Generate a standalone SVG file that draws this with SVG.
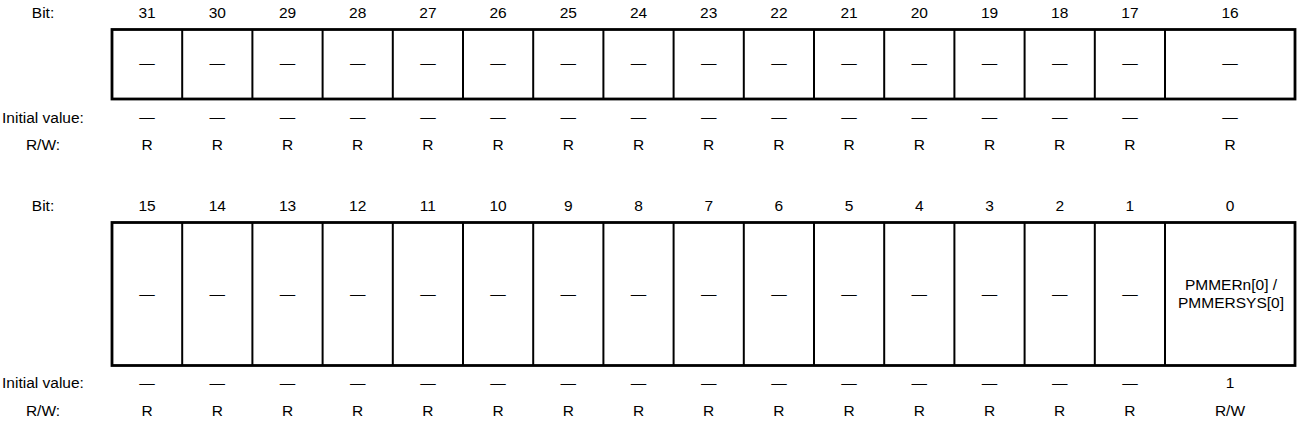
<svg xmlns="http://www.w3.org/2000/svg" width="1301" height="424" viewBox="0 0 1301 424">
<style>
text{font-family:"Liberation Sans",Arial,sans-serif;font-size:15.5px;fill:#000;text-anchor:middle}
.box{fill:#fff;stroke:#000;stroke-width:2.8}
.div{stroke:#000;stroke-width:2}
</style>
<rect width="1301" height="424" fill="#fff"/>
<g id="labels">
<text x="43" y="17.5">Bit:</text>
<text x="43" y="122.5">Initial value:</text>
<text x="43" y="150">R/W:</text>
<text x="43" y="210.5">Bit:</text>
<text x="43" y="388">Initial value:</text>
<text x="43" y="416">R/W:</text>
</g>
<g id="register-high">
<rect class="box" x="112" y="29.5" width="1183" height="69.5"/>
<g class="div">
<line x1="182.2" y1="29.5" x2="182.2" y2="99"/><line x1="252.4" y1="29.5" x2="252.4" y2="99"/><line x1="322.6" y1="29.5" x2="322.6" y2="99"/><line x1="392.8" y1="29.5" x2="392.8" y2="99"/><line x1="463" y1="29.5" x2="463" y2="99"/><line x1="533.2" y1="29.5" x2="533.2" y2="99"/><line x1="603.4" y1="29.5" x2="603.4" y2="99"/><line x1="673.6" y1="29.5" x2="673.6" y2="99"/><line x1="743.8" y1="29.5" x2="743.8" y2="99"/><line x1="814" y1="29.5" x2="814" y2="99"/><line x1="884.2" y1="29.5" x2="884.2" y2="99"/><line x1="954.4" y1="29.5" x2="954.4" y2="99"/><line x1="1024.6" y1="29.5" x2="1024.6" y2="99"/><line x1="1094.8" y1="29.5" x2="1094.8" y2="99"/><line x1="1165" y1="29.5" x2="1165" y2="99"/>
</g>
<g id="bits-high-num">
<text x="147.1" y="17.5">31</text><text x="217.3" y="17.5">30</text><text x="287.5" y="17.5">29</text><text x="357.7" y="17.5">28</text><text x="427.9" y="17.5">27</text><text x="498.1" y="17.5">26</text><text x="568.3" y="17.5">25</text><text x="638.5" y="17.5">24</text><text x="708.7" y="17.5">23</text><text x="778.9" y="17.5">22</text><text x="849.1" y="17.5">21</text><text x="919.3" y="17.5">20</text><text x="989.5" y="17.5">19</text><text x="1059.7" y="17.5">18</text><text x="1129.9" y="17.5">17</text><text x="1230" y="17.5">16</text>
</g>
<g id="bits-high-field">
<text x="147.1" y="68">—</text><text x="217.3" y="68">—</text><text x="287.5" y="68">—</text><text x="357.7" y="68">—</text><text x="427.9" y="68">—</text><text x="498.1" y="68">—</text><text x="568.3" y="68">—</text><text x="638.5" y="68">—</text><text x="708.7" y="68">—</text><text x="778.9" y="68">—</text><text x="849.1" y="68">—</text><text x="919.3" y="68">—</text><text x="989.5" y="68">—</text><text x="1059.7" y="68">—</text><text x="1129.9" y="68">—</text><text x="1230" y="68">—</text>
</g>
<g id="bits-high-init">
<text x="147.1" y="122">—</text><text x="217.3" y="122">—</text><text x="287.5" y="122">—</text><text x="357.7" y="122">—</text><text x="427.9" y="122">—</text><text x="498.1" y="122">—</text><text x="568.3" y="122">—</text><text x="638.5" y="122">—</text><text x="708.7" y="122">—</text><text x="778.9" y="122">—</text><text x="849.1" y="122">—</text><text x="919.3" y="122">—</text><text x="989.5" y="122">—</text><text x="1059.7" y="122">—</text><text x="1129.9" y="122">—</text><text x="1230" y="122">—</text>
</g>
<g id="bits-high-rw">
<text x="147.1" y="150">R</text><text x="217.3" y="150">R</text><text x="287.5" y="150">R</text><text x="357.7" y="150">R</text><text x="427.9" y="150">R</text><text x="498.1" y="150">R</text><text x="568.3" y="150">R</text><text x="638.5" y="150">R</text><text x="708.7" y="150">R</text><text x="778.9" y="150">R</text><text x="849.1" y="150">R</text><text x="919.3" y="150">R</text><text x="989.5" y="150">R</text><text x="1059.7" y="150">R</text><text x="1129.9" y="150">R</text><text x="1230" y="150">R</text>
</g>
</g>
<g id="register-low">
<rect class="box" x="112" y="222.5" width="1183" height="143"/>
<g class="div">
<line x1="182.2" y1="222.5" x2="182.2" y2="365.5"/><line x1="252.4" y1="222.5" x2="252.4" y2="365.5"/><line x1="322.6" y1="222.5" x2="322.6" y2="365.5"/><line x1="392.8" y1="222.5" x2="392.8" y2="365.5"/><line x1="463" y1="222.5" x2="463" y2="365.5"/><line x1="533.2" y1="222.5" x2="533.2" y2="365.5"/><line x1="603.4" y1="222.5" x2="603.4" y2="365.5"/><line x1="673.6" y1="222.5" x2="673.6" y2="365.5"/><line x1="743.8" y1="222.5" x2="743.8" y2="365.5"/><line x1="814" y1="222.5" x2="814" y2="365.5"/><line x1="884.2" y1="222.5" x2="884.2" y2="365.5"/><line x1="954.4" y1="222.5" x2="954.4" y2="365.5"/><line x1="1024.6" y1="222.5" x2="1024.6" y2="365.5"/><line x1="1094.8" y1="222.5" x2="1094.8" y2="365.5"/><line x1="1165" y1="222.5" x2="1165" y2="365.5"/>
</g>
<g id="bits-low-num">
<text x="147.1" y="210.5">15</text><text x="217.3" y="210.5">14</text><text x="287.5" y="210.5">13</text><text x="357.7" y="210.5">12</text><text x="427.9" y="210.5">11</text><text x="498.1" y="210.5">10</text><text x="568.3" y="210.5">9</text><text x="638.5" y="210.5">8</text><text x="708.7" y="210.5">7</text><text x="778.9" y="210.5">6</text><text x="849.1" y="210.5">5</text><text x="919.3" y="210.5">4</text><text x="989.5" y="210.5">3</text><text x="1059.7" y="210.5">2</text><text x="1129.9" y="210.5">1</text><text x="1230" y="210.5">0</text>
</g>
<g id="bits-low-field">
<text x="147.1" y="299">—</text><text x="217.3" y="299">—</text><text x="287.5" y="299">—</text><text x="357.7" y="299">—</text><text x="427.9" y="299">—</text><text x="498.1" y="299">—</text><text x="568.3" y="299">—</text><text x="638.5" y="299">—</text><text x="708.7" y="299">—</text><text x="778.9" y="299">—</text><text x="849.1" y="299">—</text><text x="919.3" y="299">—</text><text x="989.5" y="299">—</text><text x="1059.7" y="299">—</text><text x="1129.9" y="299">—</text>
<text x="1231" y="290">PMMERn[0] /</text>
<text x="1231" y="308.3">PMMERSYS[0]</text>
</g>
<g id="bits-low-init">
<text x="147.1" y="388">—</text><text x="217.3" y="388">—</text><text x="287.5" y="388">—</text><text x="357.7" y="388">—</text><text x="427.9" y="388">—</text><text x="498.1" y="388">—</text><text x="568.3" y="388">—</text><text x="638.5" y="388">—</text><text x="708.7" y="388">—</text><text x="778.9" y="388">—</text><text x="849.1" y="388">—</text><text x="919.3" y="388">—</text><text x="989.5" y="388">—</text><text x="1059.7" y="388">—</text><text x="1129.9" y="388">—</text><text x="1230" y="388">1</text>
</g>
<g id="bits-low-rw">
<text x="147.1" y="416">R</text><text x="217.3" y="416">R</text><text x="287.5" y="416">R</text><text x="357.7" y="416">R</text><text x="427.9" y="416">R</text><text x="498.1" y="416">R</text><text x="568.3" y="416">R</text><text x="638.5" y="416">R</text><text x="708.7" y="416">R</text><text x="778.9" y="416">R</text><text x="849.1" y="416">R</text><text x="919.3" y="416">R</text><text x="989.5" y="416">R</text><text x="1059.7" y="416">R</text><text x="1129.9" y="416">R</text><text x="1230" y="416">R/W</text>
</g>
</g>
<g id="connectors"/>
</svg>
